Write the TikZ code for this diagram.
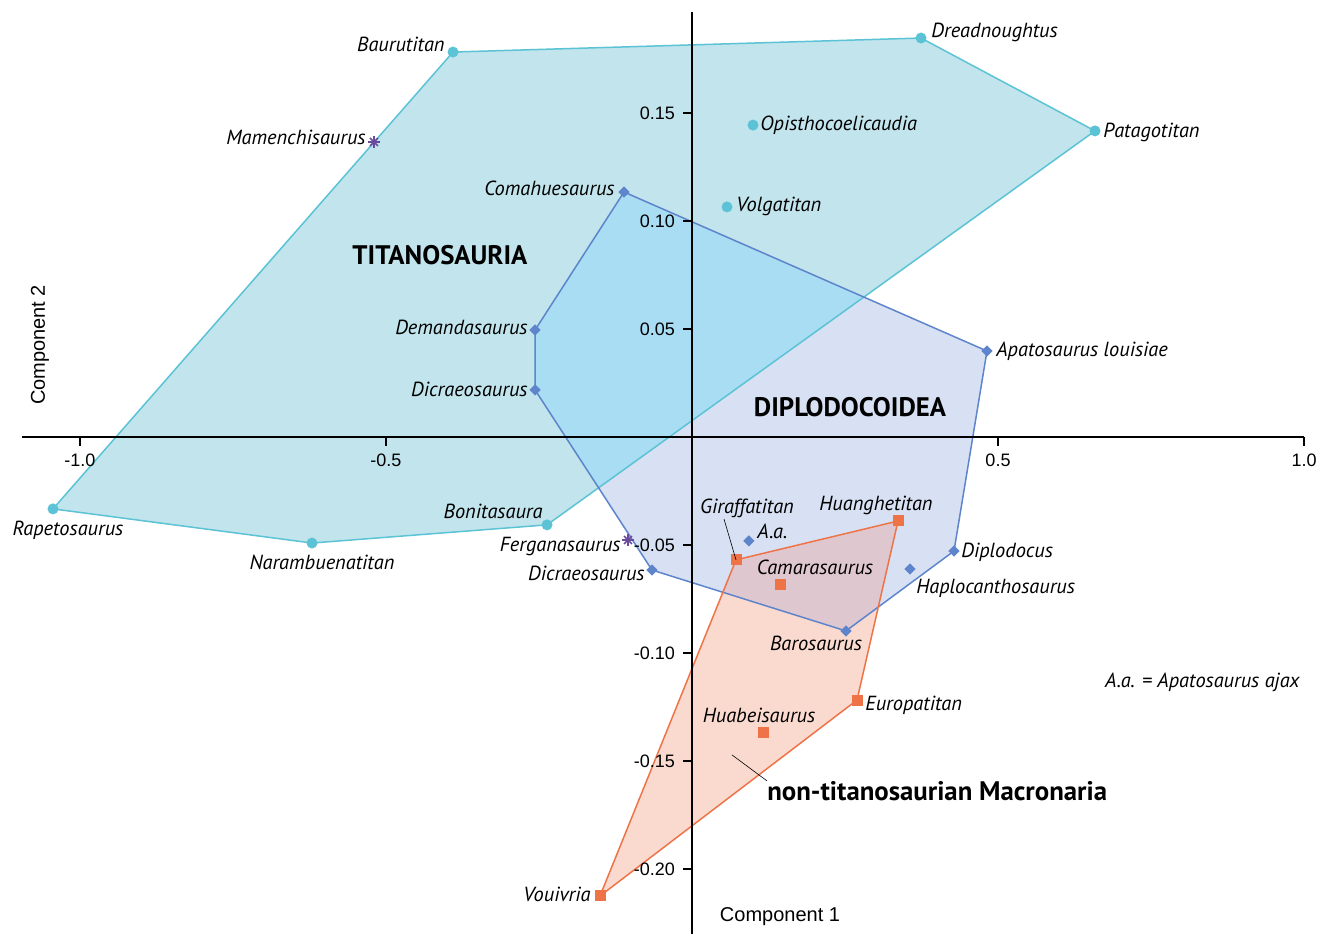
\documentclass[tikz,border=0pt]{standalone}
\usepackage{fontspec}
\setmainfont{PT Sans}
\newfontfamily\axfont{Liberation Sans}
\usetikzlibrary{shapes.geometric}

\definecolor{titline}{HTML}{5BC3D5}
\definecolor{titfill}{HTML}{C2E4EC}
\definecolor{dipline}{HTML}{5E85CB}
\definecolor{dipfill}{HTML}{D7E1F3}
\definecolor{macline}{HTML}{EE7448}
\definecolor{macfill}{HTML}{FADACF}
\definecolor{titdip}{HTML}{A8DDF3}
\definecolor{dipmac}{HTML}{DFC7CF}
\definecolor{astcol}{HTML}{6A4C9C}

\tikzset{
  lab/.style={font=\itshape\fontsize{10.2}{12}\selectfont, inner sep=0pt},
  grp/.style={font=\bfseries\fontsize{13.4}{15}\selectfont, inner sep=0pt},
  axlab/.style={font=\axfont\fontsize{9}{10}\selectfont, inner sep=0pt},
  complab/.style={font=\axfont\fontsize{10}{12}\selectfont, inner sep=0pt},
  axisline/.style={line width=1pt, black},
  tdot/.style={circle, fill=titline, inner sep=0pt, minimum size=5.5pt},
  ddot/.style={diamond, fill=dipline, inner sep=0pt, minimum size=5.8pt},
  mdot/.style={rectangle, fill=macline, inner sep=0pt, minimum size=5.5pt},
  astline/.style={astcol, line width=0.8pt},
  leader/.style={black, line width=0.3pt}
}

\begin{document}
\begin{tikzpicture}[x=306pt, y=1080pt]
\useasboundingbox (-1.1307,-0.2301) rectangle (1.0490,0.2023);

\coordinate (baur) at (-0.3905,0.1782);
\coordinate (dread) at (0.3742,0.1847);
\coordinate (pata) at (0.6585,0.1417);
\coordinate (opis) at (0.0997,0.1444);
\coordinate (volg) at (0.0572,0.1065);
\coordinate (boni) at (-0.2369,-0.0407);
\coordinate (nara) at (-0.6209,-0.0491);
\coordinate (rape) at (-1.0441,-0.0333);
\coordinate (mame) at (-0.5196,0.1366);

\coordinate (coma) at (-0.1111,0.1134);
\coordinate (apal) at (0.4820,0.0398);
\coordinate (dipl) at (0.4281,-0.0528);
\coordinate (baro) at (0.2516,-0.0898);
\coordinate (dicb) at (-0.0654,-0.0616);
\coordinate (dica) at (-0.2565,0.0218);
\coordinate (dema) at (-0.2565,0.0495);
\coordinate (hapl) at (0.3562,-0.0611);
\coordinate (apaj) at (0.0931,-0.0481);
\coordinate (ferg) at (-0.1046,-0.0477);

\coordinate (huan) at (0.3366,-0.0389);
\coordinate (gira) at (0.0719,-0.0569);
\coordinate (cama) at (0.1454,-0.0681);
\coordinate (euro) at (0.2696,-0.1218);
\coordinate (huab) at (0.1176,-0.1366);
\coordinate (vouv) at (-0.1503,-0.2125);

\fill[titfill] (baur) -- (dread) -- (pata) -- (boni) -- (nara) -- (rape) -- cycle;
\fill[dipfill] (coma) -- (apal) -- (dipl) -- (baro) -- (dicb) -- (dica) -- (dema) -- cycle;
\begin{scope}
\clip (baur) -- (dread) -- (pata) -- (boni) -- (nara) -- (rape) -- cycle;
\fill[titdip] (coma) -- (apal) -- (dipl) -- (baro) -- (dicb) -- (dica) -- (dema) -- cycle;
\end{scope}
\fill[macfill] (gira) -- (huan) -- (euro) -- (vouv) -- cycle;
\begin{scope}
\clip (coma) -- (apal) -- (dipl) -- (baro) -- (dicb) -- (dica) -- (dema) -- cycle;
\fill[dipmac] (gira) -- (huan) -- (euro) -- (vouv) -- cycle;
\end{scope}

\draw[titline, line width=0.75pt] (baur) -- (dread) -- (pata) -- (boni) -- (nara) -- (rape) -- cycle;
\draw[dipline, line width=0.75pt] (coma) -- (apal) -- (dipl) -- (baro) -- (dicb) -- (dica) -- (dema) -- cycle;
\draw[macline, line width=0.75pt] (gira) -- (huan) -- (euro) -- (vouv) -- cycle;

\draw[axisline] (-1.0948,0) -- (1.0,0);
\draw[axisline] (0,0.1968) -- (0,-0.2301);
\foreach \x/\t [count=\i] in {-1.0/-1.0,-0.5/-0.5,0.5/0.5,1.0/1.0}{
\draw[axisline] (\x,0) -- ++(0,-4.5pt) node[axlab, anchor=north, yshift=-3.5pt] (xt\i) {\t};
}
\foreach \y/\t [count=\i] in {0.15/0.15,0.10/0.10,0.05/0.05,-0.05/-0.05,-0.10/-0.10,-0.15/-0.15,-0.20/-0.20}{
\draw[axisline] (0,\y) -- ++(-4.5pt,0) node[axlab, anchor=east, xshift=-3.5pt] (yt\i) {\t};
}
\node[complab] (xname) at (0.1438,-0.2222) {Component 1};
\node[complab, rotate=90] (yname) at (-1.0654,0.0426) {Component 2};

\node[tdot] (baurM) at (baur) {};
\node[tdot] (dreadM) at (dread) {};
\node[tdot] (pataM) at (pata) {};
\node[tdot] (opisM) at (opis) {};
\node[tdot] (volgM) at (volg) {};
\node[tdot] (boniM) at (boni) {};
\node[tdot] (naraM) at (nara) {};
\node[tdot] (rapeM) at (rape) {};
\node[ddot] (comaM) at (coma) {};
\node[ddot] (apalM) at (apal) {};
\node[ddot] (diplM) at (dipl) {};
\node[ddot] (baroM) at (baro) {};
\node[ddot] (dicbM) at (dicb) {};
\node[ddot] (dicaM) at (dica) {};
\node[ddot] (demaM) at (dema) {};
\node[ddot] (haplM) at (hapl) {};
\node[ddot] (apajM) at (apaj) {};
\node[mdot] (huanM) at (huan) {};
\node[mdot] (giraM) at (gira) {};
\node[mdot] (camaM) at (cama) {};
\node[mdot] (euroM) at (euro) {};
\node[mdot] (huabM) at (huab) {};
\node[mdot] (vouvM) at (vouv) {};
\foreach \p in {mame,ferg}{
\foreach \a in {0,45,90,135}{
\draw[astline] ([shift={(\a:2.8pt)}]\p) -- ([shift={(\a+180:2.8pt)}]\p);
}
}

\node[lab, anchor=east] (baurL) at (-0.4036,0.1819) {Baurutitan};
\node[lab, anchor=east] (mameL) at (-0.5327,0.1389) {Mamenchisaurus};
\node[lab, anchor=west] (dreadL) at (0.3905,0.1875) {Dreadnoughtus};
\node[lab, anchor=west] (opisL) at (0.1111,0.1444) {Opisthocoelicaudia};
\node[lab, anchor=west] (pataL) at (0.6716,0.1412) {Patagotitan};
\node[lab, anchor=west] (volgL) at (0.0719,0.1065) {Volgatitan};
\node[lab] (rapeL) at (-1.0196,-0.0431) {Rapetosaurus};
\node[lab] (naraL) at (-0.6046,-0.0579) {Narambuenatitan};
\node[lab, anchor=east] (boniL) at (-0.2435,-0.0343) {Bonitasaura};
\node[grp] (titL) at (-0.4118,0.0843) {TITANOSAURIA};

\node[lab, anchor=east] (comaL) at (-0.1258,0.1153) {Comahuesaurus};
\node[lab, anchor=east] (demaL) at (-0.2680,0.0509) {Demandasaurus};
\node[lab, anchor=east] (dicaL) at (-0.2680,0.0222) {Dicraeosaurus};
\node[lab, anchor=west] (apalL) at (0.4967,0.0398) {Apatosaurus louisiae};
\node[grp] (dipL) at (0.2582,0.0139) {DIPLODOCOIDEA};
\node[lab, anchor=east] (fergL) at (-0.1160,-0.0505) {Ferganasaurus};
\node[lab, anchor=east] (dicbL) at (-0.0768,-0.0630) {Dicraeosaurus};
\node[lab, anchor=west] (apajL) at (0.1062,-0.0435) {A.a.};
\node[lab, anchor=west] (diplL) at (0.4395,-0.0532) {Diplodocus};
\node[lab, anchor=west] (haplL) at (0.3660,-0.0699) {Haplocanthosaurus};
\node[lab] (baroL) at (0.2026,-0.0958) {Barosaurus};

\node[lab] (giraL) at (0.0899,-0.0329) {Giraffatitan};
\node[lab] (huanL) at (0.3007,-0.0315) {Huanghetitan};
\node[lab] (camaL) at (0.2010,-0.0606) {Camarasaurus};
\node[lab, anchor=west] (euroL) at (0.2827,-0.1241) {Europatitan};
\node[lab] (huabL) at (0.1095,-0.1287) {Huabeisaurus};
\node[lab, anchor=east] (vouvL) at (-0.1650,-0.2116) {Vouivria};
\node[grp, anchor=west] (macL) at (0.1225,-0.1639) {non-titanosaurian Macronaria};
\node[lab, anchor=east] (keyL) at (0.9935,-0.1134) {A.a. = Apatosaurus ajax};

\coordinate (giraT) at (0.0523,-0.0380);
\coordinate (macT) at (0.0654,-0.1472);
\draw[leader] (giraT) -- (gira);
\draw[leader] (macT) -- (macL.north west);
\end{tikzpicture}
\end{document}
